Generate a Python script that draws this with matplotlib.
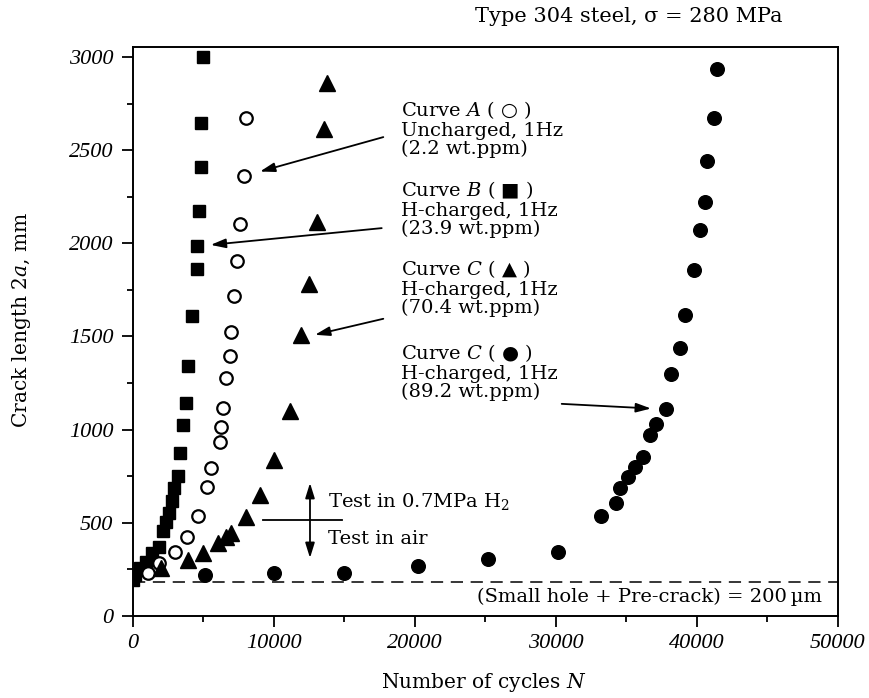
import matplotlib
matplotlib.use("Agg")
import matplotlib.pyplot as plt
from matplotlib.ticker import MultipleLocator

plt.rcParams['font.family'] = ['DejaVu Serif', 'DejaVu Sans']
plt.rcParams['mathtext.fontset'] = 'dejavuserif'

# ---- data ----
curve_b_n = [43, 164, 519, 946, 1373, 1871, 2176, 2368, 2560, 2795, 2937, 3200,
             3364, 3556, 3791, 3954, 4196, 4573, 4573, 4694, 4858, 4858, 5021]
curve_b_a = [192, 219, 255, 290, 335, 371, 457, 505, 551, 618, 685, 753,
             873, 1025, 1145, 1339, 1608, 1862, 1988, 2176, 2409, 2647, 3000]

curve_a_n = [1110, 1894, 3009, 3841, 4666, 5263, 5548, 6159, 6259, 6401, 6636,
             6920, 6970, 7205, 7397, 7632, 7866, 8058]
curve_a_a = [228, 282, 344, 425, 538, 694, 796, 932, 1016, 1115, 1276,
             1396, 1522, 1720, 1907, 2104, 2360, 2674]

curve_c_n = [1991, 3954, 5021, 6017, 6636, 6970, 8058, 9054, 10000, 11138,
             11949, 12539, 13037, 13556, 13748]
curve_c_a = [255, 299, 335, 389, 425, 443, 532, 649, 837, 1097,
             1509, 1783, 2113, 2615, 2862]

curve_d_n = [5094, 10000, 15000, 20220, 25170, 30157, 33186, 34253, 34587, 35135,
             35654, 36202, 36700, 37099, 37810, 38165, 38805, 39161, 39801, 40256,
             40583, 40754, 41224, 41437]
curve_d_a = [219, 228, 230, 267, 303, 344, 536, 604, 685, 747,
             801, 855, 971, 1029, 1110, 1298, 1438, 1617, 1859, 2074,
             2220, 2441, 2674, 2938]

initial_crack = 180
x_ticks = [0, 10000, 20000, 30000, 40000, 50000]
y_ticks = [0, 500, 1000, 1500, 2000, 2500, 3000]

fig = plt.figure(figsize=(8.7, 6.98), dpi=100)
ax = fig.add_axes([132.7 / 870, 1 - 615.7 / 698, 705 / 870, (615.7 - 47) / 698])

ax.axhline(initial_crack, color='black', lw=1.1, dashes=(8, 5))

ax.plot(curve_b_n, curve_b_a, 's', ms=8.5, color='black', mec='black', zorder=3)
ax.plot(curve_a_n, curve_a_a, 'o', ms=9, mfc='white', mec='black', mew=1.6, zorder=3)
ax.plot(curve_c_n, curve_c_a, '^', ms=11, color='black', zorder=3)
ax.plot(curve_d_n, curve_d_a, 'o', ms=9.8, color='black', zorder=3)

ax.set_xlim(0, 50000)
ax.set_ylim(0, 3055)
ax.set_xticks(x_ticks)
ax.set_yticks(y_ticks)
ax.xaxis.set_minor_locator(MultipleLocator(5000))
ax.yaxis.set_minor_locator(MultipleLocator(250))
ax.tick_params(which='major', direction='out', length=8, width=1.3, pad=5,
               top=False, right=False)
ax.tick_params(which='minor', direction='out', length=4.5, width=1.3,
               top=False, right=False)
ax.tick_params(axis='y', which='major', pad=6)
for s in ax.spines.values():
    s.set_linewidth(1.4)

ax.set_xticklabels([str(v) for v in x_ticks])
ax.set_yticklabels([str(v) for v in y_ticks])
for lab in ax.get_xticklabels() + ax.get_yticklabels():
    lab.set_fontfamily('Liberation Serif')
    lab.set_fontstyle('italic')
    lab.set_fontsize(16)

fs = 14
txt_kw = dict(fontsize=fs, ha='left', va='center', linespacing=1.03)
ax.text(19028, 2616, "Curve $A$ ( \u25CB )\nUncharged, 1Hz\n(2.2 wt.ppm)", **txt_kw)
ax.text(19028, 2186, "Curve $B$ ( \u25A0 )\nH-charged, 1Hz\n(23.9 wt.ppm)", **txt_kw)
ax.text(19028, 1761, "Curve $C$ ( \u25B2 )\nH-charged, 1Hz\n(70.4 wt.ppm)", **txt_kw)
ax.text(19028, 1310, "Curve $C$ ( \u25CF )\nH-charged, 1Hz\n(89.2 wt.ppm)", **txt_kw)

arr = dict(arrowstyle='-|>,head_length=0.9,head_width=0.28', color='black', lw=1.3,
           shrinkA=0, shrinkB=0)
ax.annotate('', xy=(9028, 2386), xytext=(17773, 2571), arrowprops=arr)
ax.annotate('', xy=(5532, 1992), xytext=(17660, 2082), arrowprops=arr)
ax.annotate('', xy=(12929, 1509), xytext=(17773, 1595), arrowprops=arr)
ax.annotate('', xy=(36759, 1113), xytext=(30426, 1138), arrowprops=arr)

# test environment marker
ax.plot([9220, 14823], [514, 514], color='black', lw=1.3)
arr2 = dict(arrowstyle='<|-|>,head_length=0.9,head_width=0.28', color='black', lw=1.3,
            shrinkA=0, shrinkB=0)
ax.annotate('', xy=(12574, 713), xytext=(12574, 310), arrowprops=arr2)
ax.text(13865, 612, "Test in 0.7MPa H$_2$", fontsize=fs, ha='left', va='center')
ax.text(13865, 412, "Test in air", fontsize=fs, ha='left', va='center')

ax.text(48887, 102, "(Small hole + Pre-crack) = 200\u2009\u00B5m", fontsize=fs,
        ha='right', va='center')

fig.text(783 / 870, 1 - 17 / 698, "Type 304 steel, \u03C3 = 280 MPa", fontsize=15,
         ha='right', va='center')
fig.text(22 / 870, 1 - 320 / 698, "Crack length 2$a$, mm", fontsize=14.5,
         rotation=90, ha='center', va='center')
fig.text(484 / 870, 1 - 683 / 698, "Number of cycles $N$", fontsize=14.5,
         ha='center', va='center')

fig.savefig("out.png", dpi=100)
